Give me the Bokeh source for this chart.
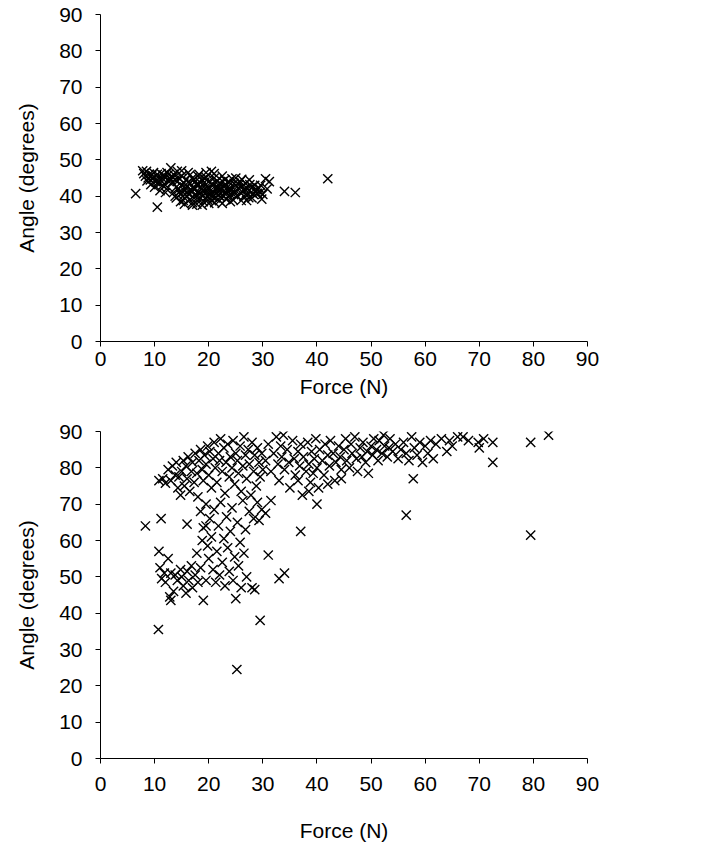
from bokeh.plotting import figure
from bokeh.layouts import column
from bokeh.models import Range1d, FixedTicker
from bokeh.embed import file_html
from bokeh.resources import INLINE

# ---------------- data (force N, angle degrees) ----------------
axis_ticks = [0, 10, 20, 30, 40, 50, 60, 70, 80, 90]
x_title = "Force (N)"
y_title = "Angle (degrees)"

# top chart
top_left_band = [
    (7.8, 47.0), (8.0, 46.2), (8.3, 45.5), (8.5, 46.8), (8.8, 45.0), (9.0, 46.0), (9.2, 44.5),
    (9.5, 45.8), (9.8, 46.5), (10.0, 45.2), (10.2, 44.0), (10.5, 46.0), (10.8, 45.0), (11.0, 43.5),
    (11.2, 46.2), (11.5, 44.8), (11.8, 45.5), (12.0, 43.0), (12.3, 46.5), (12.5, 44.2), (12.8, 45.0),
    (13.0, 47.8), (13.2, 43.8), (13.5, 46.0), (13.8, 44.5), (14.0, 42.5), (9.3, 43.2), (10.0, 42.5),
    (10.5, 37.0), (6.5, 40.7), (11.0, 41.5), (12.0, 41.0), (14.5, 45.0), (13.0, 44.5), (12.2, 42.0),
    (11.5, 43.0), (13.8, 40.0), (14.8, 38.5), (8.6, 44.2), (9.6, 44.8), (10.6, 43.8), (11.6, 45.8),
    (12.6, 46.0), (13.4, 45.2), (14.2, 46.8), (15.0, 47.0),
]
top_main_body = [
    (13.5, 41.0), (14.0, 39.5), (14.2, 44.0), (14.5, 42.0), (14.8, 40.5), (15.0, 45.5), (15.0, 43.0),
    (15.3, 38.8), (15.5, 41.5), (15.8, 44.5), (16.0, 40.0), (16.0, 42.8), (16.2, 46.5), (16.5, 39.0),
    (16.5, 43.5), (16.8, 41.2), (17.0, 45.0), (17.0, 38.2), (17.2, 42.0), (17.5, 40.5), (17.5, 44.0),
    (17.8, 37.8), (18.0, 43.0), (18.0, 41.0), (18.2, 46.0), (18.5, 39.5), (18.5, 42.5), (18.8, 44.5),
    (19.0, 40.2), (19.0, 38.5), (19.2, 43.8), (19.5, 41.8), (19.5, 45.2), (19.8, 39.0), (20.0, 42.2),
    (20.0, 44.0), (20.2, 40.5), (20.5, 46.8), (20.5, 38.8), (20.8, 43.0), (21.0, 41.0), (21.0, 45.0),
    (21.2, 39.5), (21.5, 42.5), (21.5, 44.2), (21.8, 40.2), (22.0, 43.5), (22.0, 38.8), (22.3, 41.8),
    (22.5, 45.5), (22.8, 40.0), (23.0, 42.8), (23.0, 44.5), (23.2, 39.2), (23.5, 41.5), (23.8, 43.8),
    (24.0, 40.5), (24.0, 42.0), (24.3, 44.8), (24.5, 39.0), (24.8, 41.2), (25.0, 43.0), (25.0, 45.0),
    (25.3, 40.0), (25.5, 42.2), (25.8, 44.0), (26.0, 40.8), (26.2, 42.8), (26.5, 41.5), (26.8, 43.5),
    (27.0, 40.2), (27.2, 42.0), (27.5, 44.5), (27.8, 41.0), (28.0, 42.5), (28.3, 40.5), (28.5, 43.0),
    (28.8, 41.8), (29.0, 40.8), (29.3, 42.2), (29.5, 41.0), (30.0, 40.5), (30.8, 42.0),
]
top_dense_fill = [
    (15.2, 40.0), (15.7, 42.3), (16.3, 44.0), (16.7, 41.8), (17.3, 39.5), (17.7, 43.2), (18.3, 40.8),
    (18.7, 42.0), (19.3, 44.8), (19.7, 40.0), (20.3, 41.5), (20.7, 39.8), (21.3, 43.8), (21.7, 41.2),
    (22.2, 39.8), (22.7, 42.8), (23.3, 40.8), (23.7, 44.0), (24.2, 41.8), (24.7, 43.5), (15.5, 37.8),
    (17.0, 37.5), (18.8, 37.5), (20.0, 38.0), (22.5, 38.0), (24.0, 38.5), (26.0, 38.8), (16.5, 45.8),
    (18.0, 45.5), (19.5, 46.5), (21.0, 46.2), (27.0, 38.8), (28.0, 39.5), (29.8, 39.2), (16.0, 41.0),
    (17.5, 42.0), (19.0, 41.5), (20.5, 40.8), (22.0, 42.0), (23.5, 42.5), (25.0, 41.5), (26.5, 40.0),
    (14.6, 41.2), (15.4, 43.6), (16.4, 40.6), (17.2, 44.6), (18.4, 43.8), (19.6, 42.6), (20.6, 43.4),
    (21.6, 42.0), (22.6, 44.0), (23.6, 39.8), (24.6, 40.4), (25.6, 43.2), (26.6, 42.0), (27.6, 43.2),
    (28.6, 41.2), (29.6, 43.0), (18.1, 39.2), (21.1, 38.2), (23.1, 41.2), (26.1, 44.6), (27.4, 39.6),
]
top_outliers = [
    (30.5, 44.8), (31.2, 44.0), (34.0, 41.3), (36.0, 41.0), (42.0, 44.8),
]

# bottom chart
bottom_left_arm = [
    (10.8, 76.5), (11.5, 77.0), (12.0, 75.8), (12.5, 79.5), (13.0, 76.5), (13.3, 80.5), (13.8, 78.0),
    (14.0, 81.5), (14.3, 74.5), (14.5, 77.5), (14.8, 72.5), (15.0, 79.0), (15.3, 82.0), (15.5, 75.0),
    (15.8, 80.5), (16.0, 77.0), (16.2, 83.0), (16.5, 73.5), (16.8, 79.0), (17.0, 81.5), (17.3, 76.0),
    (17.5, 84.0), (17.8, 78.5), (18.0, 72.0),
]
bottom_upper_left = [
    (18.2, 82.0), (18.5, 85.0), (18.8, 79.5), (19.0, 76.5), (19.2, 83.5), (19.5, 81.0), (19.8, 86.0),
    (20.0, 78.0), (20.2, 84.5), (20.5, 74.5), (20.8, 82.5), (21.0, 87.0), (21.2, 80.0), (21.5, 76.0),
    (21.8, 84.0), (22.0, 82.0), (22.2, 88.0), (22.5, 79.0), (22.8, 85.5), (23.0, 73.0), (23.2, 81.5),
    (23.5, 86.5), (23.8, 77.5), (24.0, 83.0), (24.3, 80.0), (24.5, 87.5), (24.8, 75.5), (25.0, 84.0),
    (25.3, 82.0), (25.5, 78.5), (25.8, 86.0), (26.0, 73.5), (26.3, 80.5), (26.5, 88.5), (26.8, 83.5),
    (27.0, 77.0), (27.3, 85.0), (27.5, 81.0), (27.8, 72.5), (28.0, 87.0), (28.3, 79.0), (28.5, 83.5),
    (28.8, 75.0), (29.0, 85.5), (29.3, 81.5), (29.5, 77.5), (29.8, 84.0), (30.0, 79.5),
]
bottom_spread = [
    (18.5, 68.0), (19.0, 63.5), (19.5, 70.0), (19.8, 58.5), (20.0, 55.0), (20.2, 66.0), (20.5, 61.0),
    (20.8, 52.0), (21.0, 68.5), (21.3, 48.5), (21.5, 57.0), (21.8, 64.0), (22.0, 50.5), (22.2, 70.5),
    (22.5, 54.0), (22.8, 60.5), (23.0, 47.5), (23.3, 66.5), (23.5, 58.0), (23.8, 51.5), (24.0, 62.5),
    (24.3, 69.0), (24.5, 49.0), (24.8, 55.5), (25.0, 44.0), (25.3, 65.0), (25.5, 53.0), (25.8, 59.5),
    (26.0, 47.0), (26.3, 71.0), (26.5, 56.5), (26.8, 63.0), (27.0, 50.0), (27.5, 68.0), (28.0, 47.0),
    (28.3, 66.0), (28.5, 46.5), (29.0, 70.5), (29.3, 65.5), (29.8, 68.5), (30.5, 67.5), (31.0, 56.0),
    (31.5, 71.0),
]
bottom_lower_left = [
    (10.8, 57.0), (11.0, 52.5), (11.3, 49.5), (11.8, 51.0), (12.0, 48.5), (12.5, 55.0), (12.8, 44.5),
    (13.0, 43.5), (13.0, 51.0), (13.5, 46.0), (13.8, 50.5), (14.2, 49.0), (14.8, 52.0), (15.0, 50.0),
    (15.3, 47.5), (15.8, 45.5), (16.0, 51.5), (16.3, 49.0), (16.8, 53.0), (17.0, 47.0), (17.5, 50.5),
    (18.0, 48.5), (18.5, 52.5), (19.0, 43.5), (19.5, 49.0), (17.8, 56.5), (18.8, 60.0), (16.0, 64.5),
    (19.5, 64.0),
]
bottom_middle_band = [
    (30.5, 82.0), (31.0, 86.5), (31.5, 79.0), (32.0, 84.0), (32.5, 88.5), (32.8, 81.0), (33.0, 76.5),
    (33.3, 86.0), (33.5, 83.0), (33.8, 89.0), (34.0, 79.5), (34.5, 85.0), (34.8, 81.5), (35.0, 74.5),
    (35.5, 87.5), (35.8, 82.5), (36.0, 78.0), (36.5, 84.5), (36.8, 80.5), (37.0, 86.5), (37.3, 72.5),
    (37.5, 83.0), (38.0, 79.0), (38.3, 87.0), (38.5, 81.0), (38.8, 76.0), (39.0, 84.5), (39.3, 78.5),
    (39.5, 82.5), (39.8, 88.0), (40.0, 80.0), (40.3, 74.5), (40.5, 85.0), (41.0, 82.0), (41.3, 78.0),
    (41.5, 86.5), (42.0, 83.5), (42.3, 80.5), (42.5, 87.5), (43.0, 84.0), (43.3, 76.5), (43.5, 81.5),
    (44.0, 86.0), (44.3, 83.0), (44.5, 79.5), (45.0, 85.0), (45.3, 88.0), (45.5, 82.0), (46.0, 80.0),
    (46.3, 86.5), (46.5, 84.0), (47.0, 88.5), (47.3, 82.5), (47.5, 79.0), (48.0, 85.5), (48.3, 83.0),
    (48.5, 87.0), (49.0, 81.5), (49.3, 84.5), (49.5, 78.5), (50.0, 86.0), (50.3, 83.5), (50.5, 88.0),
    (51.0, 85.0), (51.3, 82.0), (51.5, 87.5), (52.0, 84.0), (52.3, 89.0), (52.5, 86.0), (53.0, 83.0),
    (53.3, 85.5), (53.5, 88.0), (54.0, 84.5), (54.5, 86.5), (55.0, 82.5), (55.5, 85.0), (56.0, 87.0),
    (56.5, 84.0), (57.0, 82.0), (57.5, 88.5), (58.0, 85.5), (58.5, 83.5), (59.0, 87.0), (59.5, 81.5),
    (60.0, 86.0), (60.5, 84.0), (61.0, 87.5), (61.5, 82.5), (62.0, 86.5), (63.0, 88.0), (64.0, 84.5),
    (65.0, 86.0), (67.0, 88.5), (68.0, 87.5), (36.5, 76.5), (38.5, 73.5), (42.0, 75.5), (44.5, 77.0),
]
bottom_outliers = [
    (8.3, 64.0), (11.2, 66.0), (10.7, 35.5), (25.2, 24.5), (29.5, 38.0), (33.0, 49.5), (34.0, 51.0),
    (37.0, 62.5), (40.0, 70.0), (56.5, 67.0), (57.8, 77.0), (79.5, 61.5), (79.5, 87.0), (82.8, 89.0),
    (72.5, 81.5), (72.5, 87.0), (70.0, 85.5), (70.8, 88.0), (69.8, 87.0), (66.0, 88.5), (64.5, 87.5),
]

top_series = top_left_band + top_main_body + top_dense_fill + top_outliers
bottom_series = (bottom_left_arm + bottom_upper_left + bottom_spread + bottom_lower_left
                 + bottom_middle_band + bottom_outliers)

FONT = "Liberation Sans"


def make_chart(points, border_top, border_bottom, xlab_standoff, xtitle_standoff):
    p = figure(output_backend="svg", toolbar_location=None,
               frame_width=487, frame_height=327,
               x_range=Range1d(0, 90), y_range=Range1d(0, 90),
               min_border_left=100, min_border_right=40,
               min_border_top=border_top, min_border_bottom=border_bottom)
    p.outline_line_color = None
    p.background_fill_color = "white"
    p.border_fill_color = "white"
    p.xgrid.visible = False
    p.ygrid.visible = False
    xs = [pt[0] for pt in points]
    ys = [pt[1] for pt in points]
    p.scatter(xs, ys, marker="x", size=13, line_color="black", line_width=1.4)
    for ax in (p.xaxis[0], p.yaxis[0]):
        ax.ticker = FixedTicker(ticks=axis_ticks)
        ax.axis_line_color = "black"
        ax.axis_line_width = 1
        ax.major_tick_line_color = "black"
        ax.major_tick_in = 0
        ax.major_tick_out = 5
        ax.minor_tick_line_color = None
        ax.major_label_text_font = FONT
        ax.major_label_text_font_size = "21px"
        ax.major_label_text_color = "black"
        ax.axis_label_text_font = FONT
        ax.axis_label_text_font_size = "21px"
        ax.axis_label_text_font_style = "normal"
        ax.axis_label_text_color = "black"
    p.xaxis[0].major_label_standoff = xlab_standoff
    p.xaxis[0].axis_label_standoff = xtitle_standoff
    p.yaxis[0].major_label_standoff = 13
    p.yaxis[0].axis_label_standoff = 18
    p.xaxis[0].axis_label = x_title
    p.yaxis[0].axis_label = y_title
    return p


p1 = make_chart(top_series, 14, 70, 5, 6)
p2 = make_chart(bottom_series, 20, 93, 13, 25)
layout = column(p1, p2, spacing=0)

open("out.html", "w").write(file_html(layout, INLINE))
